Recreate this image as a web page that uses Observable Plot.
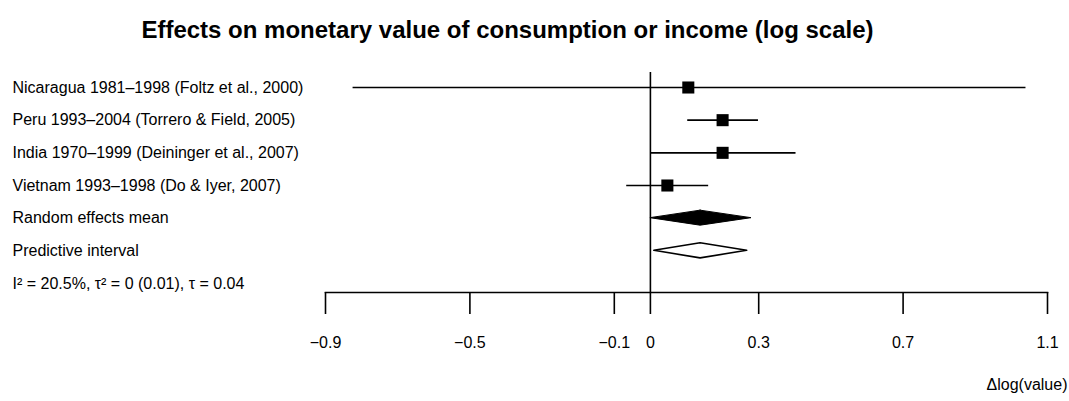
<!DOCTYPE html>
<html>
<head>
<meta charset="utf-8">
<script src="https://cdn.jsdelivr.net/npm/d3@7"></script>
<script src="https://cdn.jsdelivr.net/npm/@observablehq/plot@0.6"></script>
<style>
  body { margin: 0; background: white; width: 1069px; height: 401px; overflow: hidden; }
  #title { height: 60px; width: 1015px; text-align: center; font-family: "Liberation Sans", Arial, sans-serif; font-weight: bold; font-size: 24px; line-height: 60px; color: black; }
  #chart svg { display: block; }
</style>
</head>
<body>
<div id="title">Effects on monetary value of consumption or income (log scale)</div>
<div id="chart"></div>
<script>
const rowLabels = [
  "Nicaragua 1981–1998 (Foltz et al., 2000)",
  "Peru 1993–2004 (Torrero & Field, 2005)",
  "India 1970–1999 (Deininger et al., 2007)",
  "Vietnam 1993–1998 (Do & Iyer, 2007)",
  "Random effects mean",
  "Predictive interval",
  "I² = 20.5%, τ² = 0 (0.01), τ = 0.04"
];
const studyEst = [0.105, 0.200, 0.200, 0.047];
const studyLo  = [-0.825, 0.102, 0.000, -0.067];
const studyHi  = [1.039, 0.298, 0.402, 0.160];
const reMean = [0.000, 0.139, 0.280];      // lo, est, hi
const predInt = [0.011, 0.139, 0.268];     // lo, est, hi
const xTicks = [-0.9, -0.5, -0.1, 0, 0.3, 0.7, 1.1];
const xLabel = "Δlog(value)";

const studies = studyEst.map((e, i) => ({row: i, est: e, lo: studyLo[i], hi: studyHi[i]}));
const labelRows = rowLabels.map((t, i) => ({row: i, text: t}));
const h = 0.23;
function diamond(row, v) {
  return [
    {y: row - h, x1: v[1], x2: v[1]},
    {y: row, x1: v[0], x2: v[2]},
    {y: row + h, x1: v[1], x2: v[1]}
  ];
}
const fmt = d => d === 0 ? "0" : (d < 0 ? "\u2212" : "") + Math.abs(d).toFixed(1);

const chart = Plot.plot({
  width: 1069,
  height: 341,
  marginLeft: 325,
  marginRight: 22,
  marginTop: 12,
  marginBottom: 109,
  style: {fontFamily: "'Liberation Sans', Arial, sans-serif", fontSize: "16px", color: "black", background: "white"},
  x: {domain: [-0.9, 1.1]},
  y: {domain: [0, 6], range: [27, 223], axis: null},
  marks: [
    Plot.frame({anchor: "bottom", strokeWidth: 1.6}),
    Plot.axisX({ticks: xTicks, tickSize: 22, tickPadding: 22, tickFormat: fmt, strokeWidth: 1.6, label: null, fontSize: 16}),
    Plot.ruleX([0], {strokeWidth: 1.6}),
    Plot.link(studies, {x1: "lo", x2: "hi", y1: "row", y2: "row", strokeWidth: 1.6}),
    Plot.dot(studies, {x: "est", y: "row", symbol: "square", r: 6.8, fill: "black", stroke: null}),
    Plot.areaX(diamond(4, reMean), {y: "y", x1: "x1", x2: "x2", fill: "black", stroke: "black", strokeWidth: 1}),
    Plot.areaX(diamond(5, predInt), {y: "y", x1: "x1", x2: "x2", fill: "white", stroke: "black", strokeWidth: 1.6}),
    Plot.text(labelRows, {y: "row", text: "text", frameAnchor: "left", dx: -313, textAnchor: "start", fontSize: 16}),
    Plot.text([xLabel], {frameAnchor: "bottom-right", dx: 20, dy: 92, textAnchor: "end", lineAnchor: "middle", fontSize: 16})
  ]
});
document.getElementById("chart").appendChild(chart);
</script>
</body>
</html>
